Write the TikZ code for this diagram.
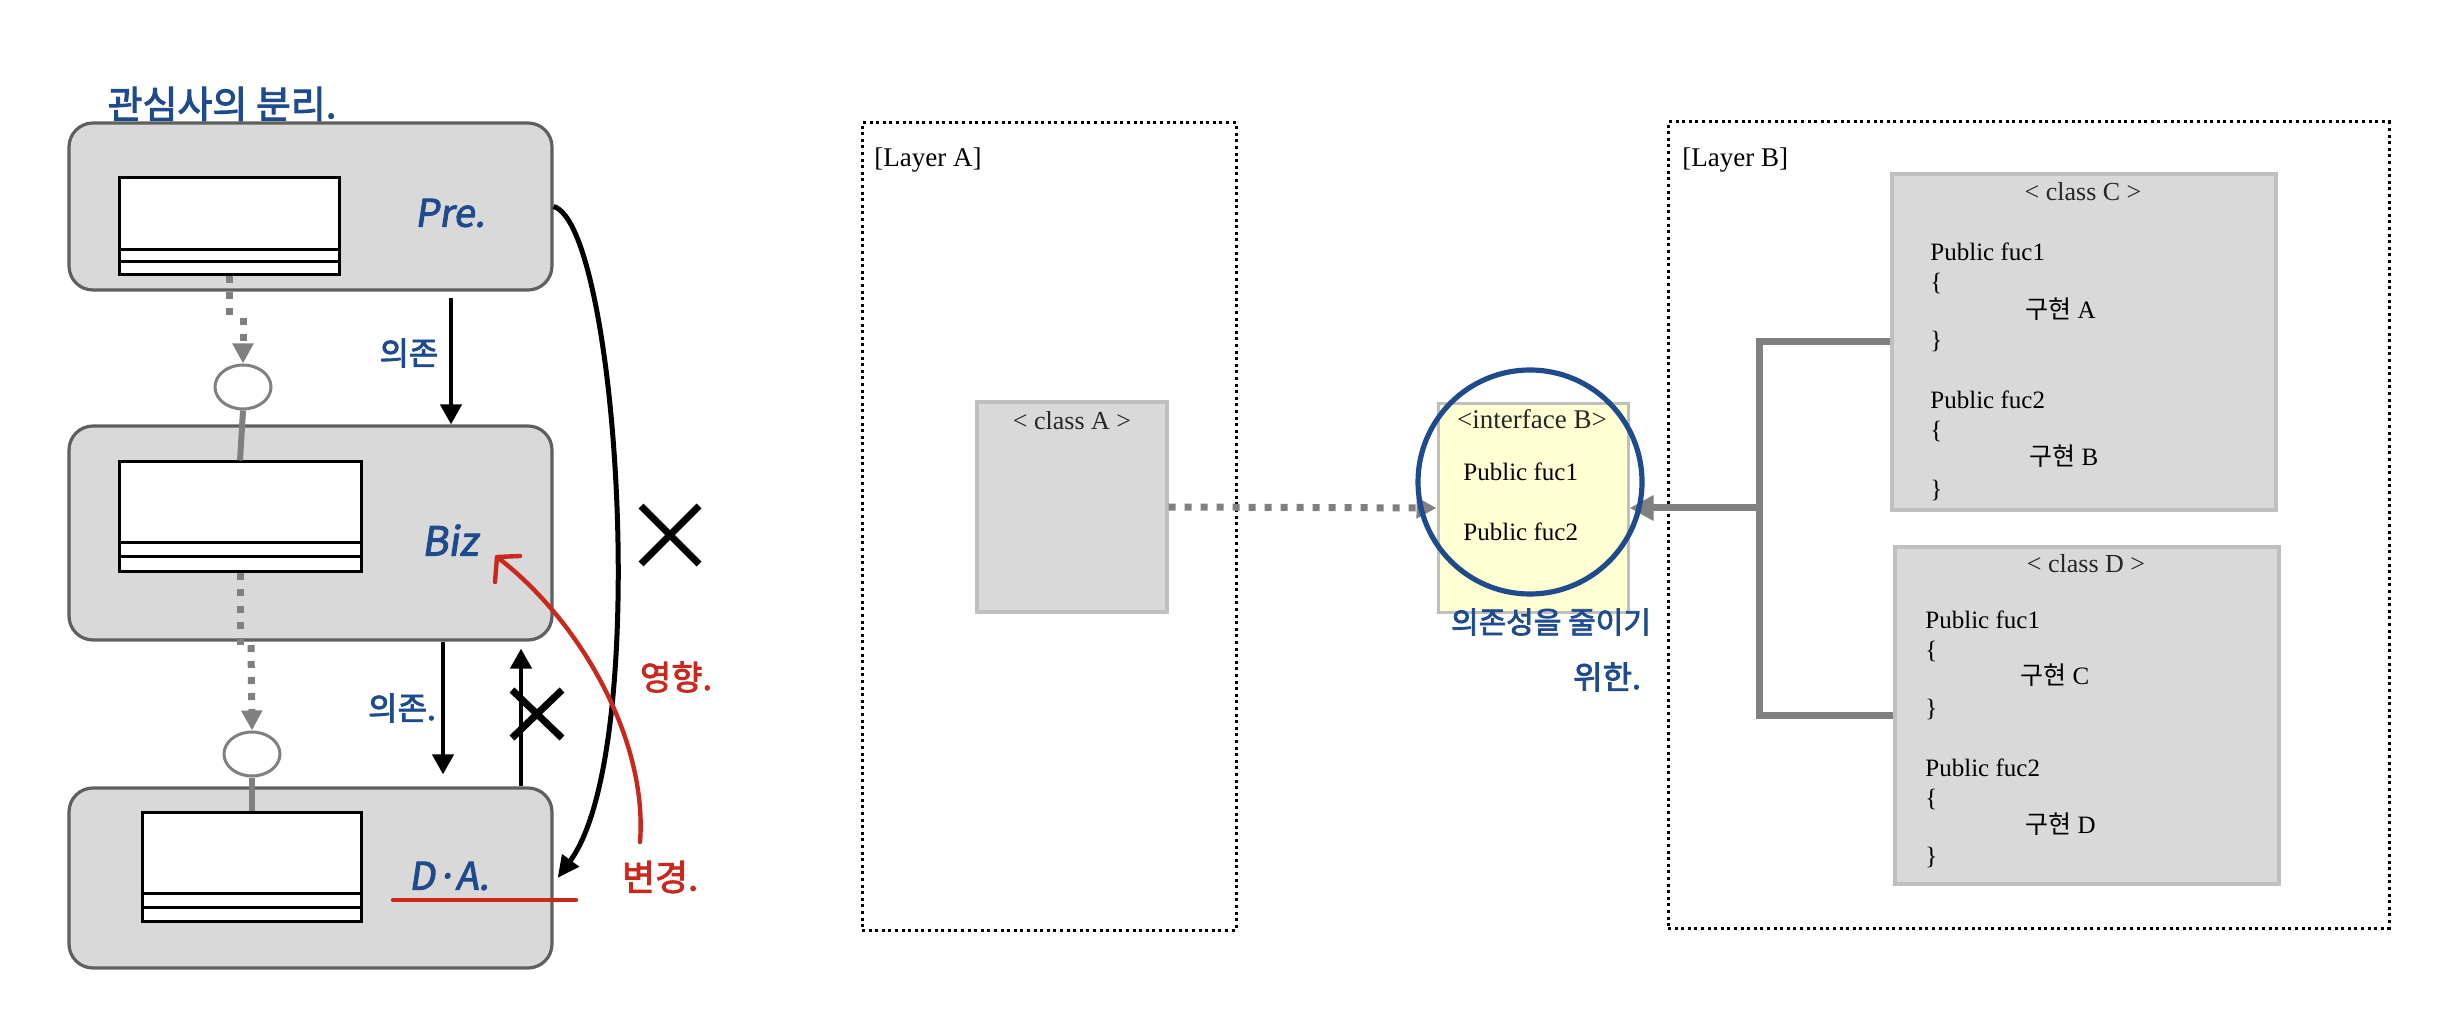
\documentclass[tikz,border=0pt]{standalone}
\usepackage{fontspec}
\setmainfont{Liberation Serif}
\newfontfamily\kr{Noto Sans CJK KR}
\newfontfamily\hand[FakeBold=2.5]{Noto Sans CJK KR}
\newfontfamily\handit[FakeBold=2.5,FakeSlant=0.15]{Noto Sans CJK KR}
\usetikzlibrary{arrows.meta,shapes.geometric,calc}
\definecolor{boxfill}{HTML}{D9D9D9}
\definecolor{boxline}{HTML}{5F5F5F}
\definecolor{gline}{HTML}{808080}
\definecolor{clsline}{HTML}{BFBFBF}
\definecolor{ifill}{HTML}{FFFFD3}
\definecolor{hblue}{HTML}{1F4A8C}
\definecolor{hred}{HTML}{C8281E}
\definecolor{dtext}{HTML}{262626}
\begin{document}
\begin{tikzpicture}[x=0.5pt,y=-0.5pt,
  lbox/.style={draw=boxline, fill=boxfill, line width=1.6pt, rounded corners=12pt, inner sep=0pt},
  inrect/.style={draw=black, fill=white, line width=1.5pt, inner sep=0pt},
  inline/.style={draw=black, line width=1.5pt},
  socket/.style={ellipse, draw=gline, fill=white, line width=1.5pt, minimum width=28pt, minimum height=22pt, inner sep=0pt},
  stem/.style={draw=gline, line width=3pt},
  gdashline/.style={draw=gline, line width=3.5pt, dash pattern=on 3.5pt off 4.5pt},
  gdash/.style={gdashline, -{Triangle[length=10pt,width=10pt]}},
  blk/.style={draw=black, line width=2.2pt, -{Triangle[length=10pt,width=10.5pt]}},
  xmark/.style={draw=black, line width=3.5pt},
  redl/.style={draw=hred, line width=2.2pt, line cap=round, line join=round},
  layerframe/.style={draw=black, line width=1.5pt, dash pattern=on 1.5pt off 1.8pt, inner sep=0pt},
  cls/.style={draw=clsline, fill=boxfill, line width=1.6pt, inner sep=0pt},
  txt/.style={inner sep=0pt, text height=8.5pt, text depth=2.5pt, font=\fontsize{12.5pt}{14pt}\selectfont},
  hdr/.style={txt, text=dtext, font=\fontsize{13pt}{15pt}\selectfont},
  hb/.style={text=hblue, inner sep=0pt},
  hr/.style={text=hred, inner sep=0pt},
  gconn/.style={draw=gline, line width=3.5pt}
]
\useasboundingbox (0,0) rectangle (2460,1020);

% ---------------- left: layered boxes ----------------
\node[hb, font=\hand\fontsize{19pt}{19pt}\selectfont] (title) at (222,104) {관심사의 분리.};

\node[lbox, minimum width=241.5pt, minimum height=83.5pt] (box1) at (310.5,206.5) {};
\node[lbox, minimum width=241.5pt, minimum height=107pt] (box2) at (310.5,533) {};
\node[lbox, minimum width=241.5pt, minimum height=90pt] (box3) at (310.5,878) {};

\node[inrect, minimum width=110pt, minimum height=48.5pt] (in1) at (229,226.5) {};
\node[inrect, minimum width=121pt, minimum height=55pt] (in2) at (240,517) {};
\node[inrect, minimum width=109.5pt, minimum height=54.5pt] (in3) at (251.5,866.5) {};

\coordinate (l1a) at (0,250); \coordinate (l1b) at (0,262);
\coordinate (l2a) at (0,543); \coordinate (l2b) at (0,557);
\coordinate (l3a) at (0,893); \coordinate (l3b) at (0,907);
\draw[inline] (in1.west |- l1a) -- (in1.east |- l1a);
\draw[inline] (in1.west |- l1b) -- (in1.east |- l1b);
\draw[inline] (in2.west |- l2a) -- (in2.east |- l2a);
\draw[inline] (in2.west |- l2b) -- (in2.east |- l2b);
\draw[inline] (in3.west |- l3a) -- (in3.east |- l3a);
\draw[inline] (in3.west |- l3b) -- (in3.east |- l3b);

\node[socket] (c1) at (243,387) {};
\node[socket] (c2) at (252,754) {};

\coordinate (j1a) at (229,320); \coordinate (j1b) at (243,318);
\draw[gdashline] (in1.south) -- (j1a);
\draw[gdash] (j1b) -- (c1.north);
\draw[stem] (c1.south) -- (in2.north);
\coordinate (j2a) at (240,648); \coordinate (j2b) at (251,645);
\draw[gdashline] (in2.south) -- (j2a);
\draw[gdash] (j2b) -- (c2.north);
\draw[stem] (c2.south) -- (c2.south |- in3.north);

\coordinate (a1) at (451,0); \coordinate (a2) at (443,0); \coordinate (a3) at (521,0);
\draw[blk, shorten <=3pt] (box1.south -| a1) -- (box2.north -| a1);
\draw[blk, shorten >=6pt] (box2.south -| a2) -- (box3.north -| a2);
\draw[blk, shorten >=3.5pt] (box3.north -| a3) -- (box2.south -| a3);

\coordinate (xs) at (537,714);
\draw[xmark] ($(xs)+(-25,-24)$) -- ($(xs)+(25,24)$);
\draw[xmark] ($(xs)+(25,-24)$) -- ($(xs)+(-25,24)$);
\coordinate (xb) at (670,535);
\draw[xmark] ($(xb)+(-29,-29)$) -- ($(xb)+(29,29)$);
\draw[xmark] ($(xb)+(29,-29)$) -- ($(xb)+(-29,29)$);

\draw[draw=black, line width=2.5pt, -{Triangle[length=11pt,width=10pt]}]
  (box1.east) .. controls (618,225) and (652,750) .. ([xshift=2pt]box3.east);

\node[hb, font=\hand\fontsize{16pt}{16pt}\selectfont] (dep1) at (409,353) {의존};
\node[hb, font=\hand\fontsize{16pt}{16pt}\selectfont] (dep2) at (402,708) {의존.};
\node[hb, font=\handit\fontsize{19pt}{19pt}\selectfont] (pre) at (450,213) {Pre.};
\node[hb, font=\handit\fontsize{20pt}{20pt}\selectfont] (biz) at (450,540) {Biz};
\node[hb, font=\handit\fontsize{19pt}{19pt}\selectfont] (da) at (449,876) {D·A.};

\coordinate (ula) at (393,900); \coordinate (ulb) at (576,900);
\draw[redl] (ula) -- (ulb);
\coordinate (rstart) at (640,842); \coordinate (rtip) at (497,557);
\coordinate (rch1) at (495,582); \coordinate (rch2) at (520,556);
\draw[redl] (rstart) .. controls (648,740) and (580,620) .. (rtip);
\draw[redl] (rch1) -- (rtip) -- (rch2);
\node[hr, font=\hand\fontsize{17pt}{17pt}\selectfont] (eff) at (676,677) {영향.};
\node[hr, font=\hand\fontsize{18pt}{18pt}\selectfont] (chg) at (660,877) {변경.};

% ---------------- right: layers ----------------
\node[layerframe, minimum width=187pt, minimum height=403.5pt] (layA) at (1049,526.5) {};
\node[layerframe, minimum width=360.5pt, minimum height=403pt] (layB) at (2028.5,525) {};
\node[txt, anchor=west, font=\fontsize{13.5pt}{15pt}\selectfont] (labA) at (874,161) {[Layer A]};
\node[txt, anchor=west, font=\fontsize{13.5pt}{15pt}\selectfont] (labB) at (1682,161) {[Layer B]};

\node[cls, minimum width=95pt, minimum height=105pt] (clsA) at (1072,507) {};
\node[hdr] (tA) at (1072,424) {< class A >};

\node[draw=clsline, fill=ifill, line width=1.5pt, inner sep=0pt, minimum width=95pt, minimum height=104pt] (ifB) at (1533,508) {};
\node[hdr, font=\fontsize{13.5pt}{15pt}\selectfont] (tB) at (1532,423) {<interface B>};
\node[txt, anchor=west] (ib1) at (1463,475) {Public fuc1};
\node[txt, anchor=west] (ib2) at (1463,535) {Public fuc2};

\node[cls, minimum width=192pt, minimum height=168pt] (clsC) at (2084,342) {};
\node[hdr] (tC) at (2083,195) {< class C >};
\node[txt, anchor=west] (c1a) at (1930,255) {Public fuc1};
\node[txt, anchor=west] (c1b) at (1930,285) {\{};
\node[txt, anchor=west] (c1c) at (2025,313) {{\kr 구현} A};
\node[txt, anchor=west] (c1d) at (1930,343) {\}};
\node[txt, anchor=west] (c2a) at (1930,403) {Public fuc2};
\node[txt, anchor=west] (c2b) at (1930,433) {\{};
\node[txt, anchor=west] (c2c) at (2029,460) {{\kr 구현} B};
\node[txt, anchor=west] (c2d) at (1930,492) {\}};

\node[cls, minimum width=192pt, minimum height=168.5pt] (clsD) at (2087,715.5) {};
\node[hdr] (tD) at (2086,567) {< class D >};
\node[txt, anchor=west] (d1a) at (1925,622) {Public fuc1};
\node[txt, anchor=west] (d1b) at (1925,652) {\{};
\node[txt, anchor=west] (d1c) at (2020,678) {{\kr 구현} C};
\node[txt, anchor=west] (d1d) at (1925,710) {\}};
\node[txt, anchor=west] (d2a) at (1925,770) {Public fuc2};
\node[txt, anchor=west] (d2b) at (1925,800) {\{};
\node[txt, anchor=west] (d2c) at (2025,827) {{\kr 구현} D};
\node[txt, anchor=west] (d2d) at (1925,858) {\}};

% connectors
\draw[gdash] (clsA.east) -- (ifB.west);
\coordinate (jn) at (1759,508);
\draw[gconn] (clsC.west) -| (jn);
\draw[gconn] (clsD.west) -| (jn);
\draw[gconn, -{Triangle[length=12pt,width=12pt]}] (jn) -- (ifB.east);

\node[circle, draw=hblue, line width=2.6pt, minimum size=112pt, inner sep=0pt] (focus) at (1530,482) {};
\node[hb, font=\hand\fontsize{15pt}{15pt}\selectfont] (dep3) at (1551,622) {의존성을 줄이기};
\node[hb, font=\hand\fontsize{16pt}{16pt}\selectfont] (dep4) at (1607,677) {위한.};
\end{tikzpicture}
\end{document}
